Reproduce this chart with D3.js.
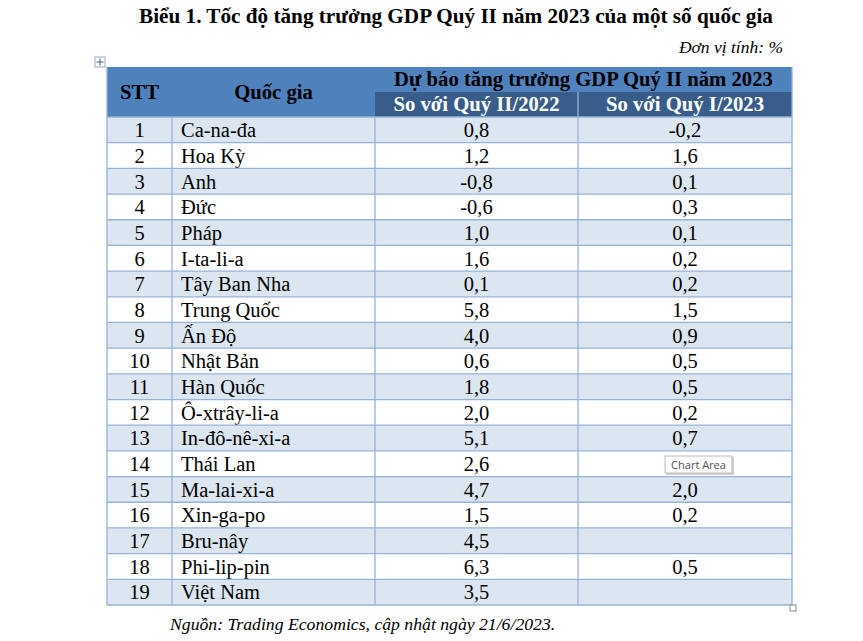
<!DOCTYPE html>
<html>
<head>
<meta charset="utf-8">
<script src="https://cdn.jsdelivr.net/npm/d3@7"></script>
<style>
  body { margin: 0; background: #fff; }
  svg text { font-family: 'Times New Roman', 'Liberation Serif', serif; }
</style>
</head>
<body>
<div id="app"></div>
<script>
(function (d3) {

  'use strict'

  // table data
  const stt = [1, 2, 3, 4, 5, 6, 7, 8, 9, 10, 11, 12, 13, 14, 15, 16, 17, 18, 19]
  const countries = ['Ca-na-đa', 'Hoa Kỳ', 'Anh', 'Đức', 'Pháp', 'I-ta-li-a', 'Tây Ban Nha',
    'Trung Quốc', 'Ấn Độ', 'Nhật Bản', 'Hàn Quốc', 'Ô-xtrây-li-a', 'In-đô-nê-xi-a',
    'Thái Lan', 'Ma-lai-xi-a', 'Xin-ga-po', 'Bru-nây', 'Phi-lip-pin', 'Việt Nam']
  const vsQ2y2022 = [0.8, 1.2, -0.8, -0.6, 1.0, 1.6, 0.1, 5.8, 4.0, 0.6, 1.8, 2.0, 5.1, 2.6, 4.7, 1.5, 4.5, 6.3, 3.5]
  const vsQ1y2023 = [-0.2, 1.6, 0.1, 0.3, 0.1, 0.2, 0.2, 1.5, 0.9, 0.5, 0.5, 0.2, 0.7, null, 2.0, 0.2, null, 0.5, null]

  const title = 'Biểu 1. Tốc độ tăng trưởng GDP Quý II năm 2023 của một số quốc gia'
  const unit = 'Đơn vị tính: %'
  const source = 'Nguồn: Trading Economics, cập nhật ngày 21/6/2023.'
  const headTop = ['STT', 'Quốc gia', 'Dự báo tăng trưởng GDP Quý II năm 2023']
  const headSub = ['So với Quý II/2022', 'So với Quý I/2023']

  const W = 863
  const H = 641
  const colEdges = [107, 172, 375, 578, 792]
  const headY = [67, 92, 117]
  const bodyBottom = 605

  const fmt = function (v) {
    return v === null ? '' : d3.format('.1f')(v).replace('.', ',').replace('−', '-')
  }

  const rows = stt.map(function (s, i) {
    return { stt: s, name: countries[i], a: vsQ2y2022[i], b: vsQ1y2023[i] }
  })

  const svg = d3.select('#app').append('svg')
    .attr('width', W)
    .attr('height', H)

  // row scale
  const yScale = d3.scaleBand()
    .domain(stt)
    .range([headY[2], bodyBottom])

  const colCenter = function (i) { return (colEdges[i] + colEdges[i + 1]) / 2 }
  const border = '#95b3d7'
  const bodySize = '20.5px'
  const headSize = '20.7px'

  // title + unit
  svg.append('text')
    .attr('x', 456)
    .attr('y', 23)
    .attr('text-anchor', 'middle')
    .style('font-size', '21.2px')
    .style('font-weight', 'bold')
    .text(title)

  svg.append('text')
    .attr('x', 783)
    .attr('y', 53)
    .attr('text-anchor', 'end')
    .style('font-size', '17.5px')
    .style('font-style', 'italic')
    .text(unit)

  // header backgrounds
  svg.append('rect')
    .attr('x', colEdges[0]).attr('y', headY[0])
    .attr('width', colEdges[4] - colEdges[0]).attr('height', headY[2] - headY[0])
    .style('fill', '#4f81bd')
  svg.append('rect')
    .attr('x', colEdges[2]).attr('y', headY[1])
    .attr('width', colEdges[4] - colEdges[2]).attr('height', headY[2] - headY[1])
    .style('fill', '#385d8a')

  // body rows
  const body = svg.append('g')
  const row = body.selectAll('g.row')
    .data(rows)
    .enter()
    .append('g')
    .attr('class', 'row')
    .attr('transform', function (d) { return 'translate(0,' + yScale(d.stt) + ')' })

  row.append('rect')
    .attr('x', colEdges[0])
    .attr('width', colEdges[4] - colEdges[0])
    .attr('height', yScale.bandwidth())
    .style('fill', function (d, i) { return i % 2 === 0 ? '#dce6f1' : '#ffffff' })

  const ty = yScale.bandwidth() / 2 + 7.3
  row.append('text')
    .attr('x', colCenter(0)).attr('y', ty)
    .attr('text-anchor', 'middle')
    .style('font-size', bodySize)
    .text(function (d) { return d.stt })
  row.append('text')
    .attr('x', colEdges[1] + 9).attr('y', ty)
    .style('font-size', bodySize)
    .text(function (d) { return d.name })
  row.append('text')
    .attr('x', colCenter(2)).attr('y', ty)
    .attr('text-anchor', 'middle')
    .style('font-size', bodySize)
    .text(function (d) { return fmt(d.a) })
  row.append('text')
    .attr('x', colCenter(3)).attr('y', ty)
    .attr('text-anchor', 'middle')
    .style('font-size', bodySize)
    .text(function (d) { return fmt(d.b) })

  // grid lines
  const grid = svg.append('g')
    .style('stroke', border)
    .style('stroke-width', 1.3)
    .style('fill', 'none')
  grid.selectAll('line.h')
    .data(stt)
    .enter()
    .append('line')
    .attr('x1', colEdges[0]).attr('x2', colEdges[4])
    .attr('y1', function (d) { return yScale(d) + yScale.bandwidth() })
    .attr('y2', function (d) { return yScale(d) + yScale.bandwidth() })
  grid.selectAll('line.v')
    .data(colEdges)
    .enter()
    .append('line')
    .attr('x1', function (d) { return d }).attr('x2', function (d) { return d })
    .attr('y1', function (d, i) { return i === 3 ? headY[1] : (i === 0 || i === 4 ? headY[0] : headY[2]) })
    .attr('y2', bodyBottom)
  grid.append('line')
    .attr('x1', colEdges[0]).attr('x2', colEdges[4])
    .attr('y1', headY[2]).attr('y2', headY[2])

  // header text
  svg.append('text')
    .attr('x', colCenter(0)).attr('y', 99)
    .attr('text-anchor', 'middle')
    .style('font-size', headSize).style('font-weight', 'bold')
    .text(headTop[0])
  svg.append('text')
    .attr('x', colCenter(1)).attr('y', 99)
    .attr('text-anchor', 'middle')
    .style('font-size', headSize).style('font-weight', 'bold')
    .text(headTop[1])
  svg.append('text')
    .attr('x', (colEdges[2] + colEdges[4]) / 2).attr('y', 86)
    .attr('text-anchor', 'middle')
    .style('font-size', headSize).style('font-weight', 'bold')
    .text(headTop[2])
  svg.selectAll('text.sub')
    .data(headSub)
    .enter()
    .append('text')
    .attr('class', 'sub')
    .attr('x', function (d, i) { return colCenter(i + 2) })
    .attr('y', 111)
    .attr('text-anchor', 'middle')
    .style('font-size', headSize).style('font-weight', 'bold')
    .style('fill', '#ffffff')
    .text(function (d) { return d })

  // source
  svg.append('text')
    .attr('x', 170)
    .attr('y', 630)
    .style('font-size', '17.7px')
    .style('font-style', 'italic')
    .text(source)

  // word table handles
  const mv = svg.append('g').attr('transform', 'translate(95,57)')
  mv.append('rect').attr('width', 10).attr('height', 10)
    .style('fill', '#fff').style('stroke', '#9aa9c4')
  mv.append('path').attr('d', 'M5,1.5V8.5M1.5,5H8.5')
    .style('stroke', '#3b5fa0').style('stroke-width', 1)
  svg.append('rect')
    .attr('x', 790).attr('y', 605).attr('width', 6).attr('height', 6)
    .style('fill', '#fff').style('stroke', '#888')

  // tooltip left in the screenshot
  const tip = svg.append('g').attr('transform', 'translate(665,456)')
  tip.append('rect')
    .attr('x', 1).attr('y', 1).attr('width', 68).attr('height', 18)
    .style('fill', '#cfcfcf')
  tip.append('rect')
    .attr('width', 67).attr('height', 17)
    .style('fill', '#fbfbfb').style('stroke', '#bdbdbd')
  tip.append('text')
    .attr('x', 33.5).attr('y', 12.5)
    .attr('text-anchor', 'middle')
    .style('font-family', "'Open Sans', 'DejaVu Sans', sans-serif")
    .style('font-size', '11px')
    .style('fill', '#555')
    .text('Chart Area')

})(d3)
</script>
</body>
</html>
